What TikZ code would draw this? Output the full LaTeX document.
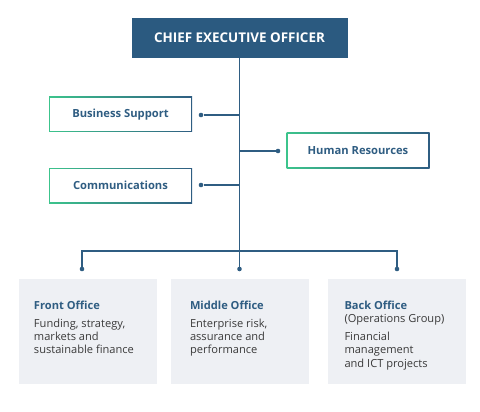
\documentclass[tikz,border=0pt]{standalone}
\usepackage{fontspec}
\setmainfont{Open Sans}
\usetikzlibrary{positioning}

\definecolor{ceoblue}{HTML}{2B5A80}
\definecolor{linkblue}{HTML}{2F5D82}
\definecolor{unitgreen}{HTML}{3CC48C}
\definecolor{officegray}{HTML}{EEF0F4}
\definecolor{bodytext}{HTML}{3A3A3A}

\begin{document}
\begin{tikzpicture}[
  x=1pt, y=-1pt,
  chief/.style={fill=ceoblue, text=white, font=\bfseries\fontsize{13.4}{15}\selectfont, minimum width=216pt, minimum height=40pt, inner sep=0pt},
  unit/.style={left color=unitgreen, right color=linkblue, text=linkblue, font=\bfseries\fontsize{11.2}{13}\selectfont,
    minimum width=143pt, minimum height=35pt, inner sep=0pt,
    path picture={\fill[white] ([shift={(1.2pt,1.2pt)}]path picture bounding box.south west) rectangle ([shift={(-1.2pt,-1.2pt)}]path picture bounding box.north east);}},
  office/.style={fill=officegray, minimum width=138pt, minimum height=105pt, inner sep=0pt},
  officetext/.style={anchor=north west, align=left, inner sep=0pt, text=bodytext, font=\fontsize{11.1}{13.3}\selectfont},
  dot/.style={circle, fill=linkblue, inner sep=0pt, minimum size=4.6pt},
  link/.style={draw=linkblue, line width=1.3pt}
]
\useasboundingbox (0,0) rectangle (480,412);

\node[chief] (ceo) at (239.5,38) {CHIEF EXECUTIVE OFFICER};
\coordinate (hub) at (239.5,251);

\node[unit] (bs) at (120.5,114.5) {Business Support};
\node[unit] (comm) at (120.5,185.5) {Communications};
\node[unit] (hr) at (358,150.5) {Human Resources};

\node[dot] (bsdot) at (201,115) {};
\node[dot] (commdot) at (201,185) {};
\node[dot] (hrdot) at (278,151) {};

\node[office] (fo) at (88,331.5) {};
\node[office] (mo) at (240,331.5) {};
\node[office] (bo) at (396.5,331.5) {};

\node[dot] (fodot) at (82,269) {};
\node[dot] (modot) at (239.5,269) {};
\node[dot] (bodot) at (397,269) {};

% office texts
\node[officetext] (fotext) at ([xshift=15pt,yshift=-22pt]fo.north west)
  {\color{linkblue}\bfseries Front Office\\[4.5pt]\color{bodytext}\mdseries Funding, strategy,\\markets and\\sustainable finance};
\node[officetext] (motext) at ([xshift=19pt,yshift=-22pt]mo.north west)
  {\color{linkblue}\bfseries Middle Office\\[4.5pt]\color{bodytext}\mdseries Enterprise risk,\\assurance and\\performance};
\node[officetext] (botext) at ([xshift=17pt,yshift=-22pt]bo.north west)
  {\color{linkblue}\bfseries Back Office\\\mdseries (Operations Group)\\[4.5pt]\color{bodytext}Financial\\management\\and ICT projects};

% connectors
\draw[link] (ceo.south -| hub) -- (hub);
\draw[link] (bsdot) -- (bsdot -| hub);
\draw[link] (commdot) -- (commdot -| hub);
\draw[link] (hrdot) -- (hrdot -| hub);
\draw[link] (fodot) |- (hub) -| (bodot);
\draw[link] (hub) -- (modot);
\end{tikzpicture}
\end{document}
